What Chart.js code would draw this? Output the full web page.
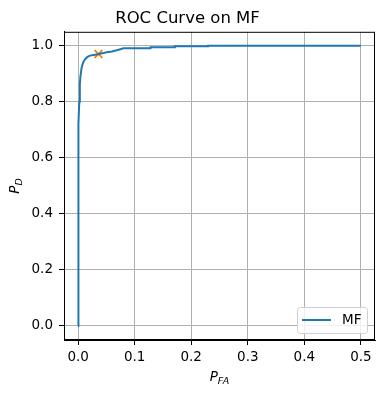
<!DOCTYPE html>
<html>
<head>
<meta charset="utf-8">
<script src="https://cdn.jsdelivr.net/npm/chart.js@4/dist/chart.umd.min.js"></script>
<style>
  html, body { margin: 0; padding: 0; background: #fff; }
  #wrap { width: 383px; height: 396px; }
</style>
</head>
<body>
<div id="wrap"><canvas id="roc"></canvas></div>
<script>
// ROC curve points
const pFA = [0, 0, 0.0005, 0.001, 0.002, 0.003, 0.004, 0.006, 0.008, 0.010, 0.012, 0.015, 0.018, 0.021, 0.030, 0.036, 0.045, 0.050, 0.060, 0.068, 0.075, 0.080, 0.128, 0.128, 0.171, 0.171, 0.230, 0.230, 0.5];
const pD  = [0, 0.45, 0.62, 0.72, 0.80, 0.86, 0.89, 0.92, 0.935, 0.945, 0.951, 0.958, 0.962, 0.965, 0.968, 0.971, 0.974, 0.977, 0.980, 0.984, 0.988, 0.991, 0.991, 0.995, 0.995, 0.998, 0.998, 1.0, 1.0];
// operating point (orange x)
const opFA = [0.036];
const opD = [0.971];

const xTicks = [0, 0.1, 0.2, 0.3, 0.4, 0.5];
const yTicks = [0, 0.2, 0.4, 0.6, 0.8, 1.0];

const FONT = 'DejaVu Sans';

const framePlugin = {
  id: 'frame',
  afterDraw(chart) {
    const ctx = chart.ctx;
    const a = chart.chartArea;
    ctx.save();
    ctx.strokeStyle = '#000';
    ctx.lineWidth = 1;
    ctx.strokeRect(a.left + 0.5, a.top + 0.5, a.right - a.left - 1, a.bottom - a.top - 1);

    // legend, lower right
    const bw = 70, bh = 26;
    const bx = a.right - 8 - bw, by = a.bottom - 7 - bh;
    ctx.fillStyle = 'rgba(255,255,255,0.8)';
    ctx.strokeStyle = '#d0d0d0';
    ctx.beginPath();
    ctx.roundRect(bx + 0.5, by + 0.5, bw, bh, 3);
    ctx.fill();
    ctx.stroke();
    ctx.strokeStyle = '#1f77b4';
    ctx.lineWidth = 2;
    ctx.beginPath();
    ctx.moveTo(bx + 5, by + 13);
    ctx.lineTo(bx + 34, by + 13);
    ctx.stroke();
    ctx.fillStyle = '#000';
    ctx.font = '13.5px "' + FONT + '"';
    ctx.textBaseline = 'middle';
    ctx.textAlign = 'left';
    ctx.fillText(chart.data.datasets[0].label, bx + 45, by + 13.5);

    // axis titles with subscripts
    const cx = (a.left + a.right) / 2;
    ctx.font = 'italic 13.5px "' + FONT + '"';
    const wP = ctx.measureText('P').width;
    ctx.font = 'italic 9.5px "' + FONT + '"';
    const wFA = ctx.measureText('FA').width;
    let x0 = cx - (wP + wFA) / 2;
    ctx.textBaseline = 'alphabetic';
    ctx.font = 'italic 13.5px "' + FONT + '"';
    ctx.fillText('P', x0, 381);
    ctx.font = 'italic 9.5px "' + FONT + '"';
    ctx.fillText('FA', x0 + wP, 384);

    const cy = (a.top + a.bottom) / 2;
    ctx.translate(19, cy);
    ctx.rotate(-Math.PI / 2);
    ctx.font = 'italic 9.5px "' + FONT + '"';
    const wDD = ctx.measureText('D').width;
    ctx.font = 'italic 13.5px "' + FONT + '"';
    x0 = -(wP + wDD) / 2;
    ctx.fillText('P', x0, 0);
    ctx.font = 'italic 9.5px "' + FONT + '"';
    ctx.fillText('D', x0 + wP, 3);
    ctx.restore();
  }
};

new Chart(document.getElementById('roc'), {
  type: 'line',
  data: {
    datasets: [{
      label: 'MF',
      data: pFA.map((v, i) => ({ x: v, y: pD[i] })),
      borderColor: '#1f77b4',
      borderWidth: 2,
      pointRadius: 0,
      tension: 0,
      fill: false
    }, {
      data: opFA.map((v, i) => ({ x: v, y: opD[i] })),
      showLine: false,
      pointStyle: 'crossRot',
      pointRadius: 5.5,
      borderColor: '#ff7f0e',
      backgroundColor: '#ff7f0e',
      pointBorderWidth: 1.8
    }]
  },
  options: {
    responsive: true,
    maintainAspectRatio: false,
    animation: false,
    events: [],
    layout: { padding: { left: 0, right: 8, top: 0, bottom: 0 } },
    plugins: {
      legend: { display: false },
      tooltip: { enabled: false },
      title: {
        display: true,
        text: 'ROC Curve on MF',
        color: '#000',
        font: { family: FONT, size: 16.5, weight: 'normal' },
        padding: { top: 9, bottom: 3 }
      }
    },
    scales: {
      x: {
        type: 'linear',
        min: -0.025,
        max: 0.525,
        afterBuildTicks: s => { s.ticks = xTicks.map(v => ({ value: v })); },
        afterFit: s => { s.height = 56; },
        ticks: {
          color: '#000',
          font: { family: FONT, size: 13.5 },
          padding: 4,
          maxRotation: 0,
          callback: v => v.toFixed(1)
        },
        grid: { color: '#b0b0b0', tickColor: '#000', tickLength: 5, lineWidth: 1 },
        border: { color: '#000', width: 1 }
      },
      y: {
        type: 'linear',
        min: -0.05,
        max: 1.05,
        afterBuildTicks: s => { s.ticks = yTicks.map(v => ({ value: v })); },
        afterFit: s => { s.width = 64; },
        ticks: {
          color: '#000',
          font: { family: FONT, size: 13.5 },
          padding: 6,
          callback: v => v.toFixed(1)
        },
        grid: { color: '#b0b0b0', tickColor: '#000', tickLength: 5, lineWidth: 1 },
        border: { color: '#000', width: 1 }
      }
    }
  },
  plugins: [framePlugin]
});
</script>
</body>
</html>
